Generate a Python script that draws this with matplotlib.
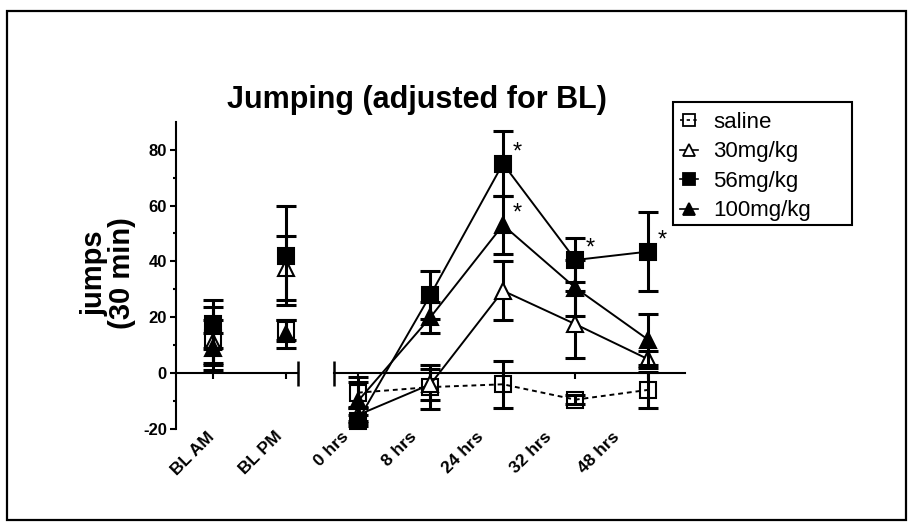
import matplotlib
matplotlib.use('Agg')
import matplotlib.pyplot as plt
from matplotlib.lines import Line2D
from matplotlib.patches import Rectangle
import matplotlib.transforms as mtrans

plt.rcParams['font.family'] = ['Liberation Sans', 'DejaVu Sans']
plt.rcParams['axes.unicode_minus'] = False

# ---------------- data ----------------
categories = ['BL AM', 'BL PM', '0 hrs', '8 hrs', '24 hrs', '32 hrs', '48 hrs']
series_names = ['saline', '30mg/kg', '56mg/kg', '100mg/kg']
saline_mean = [12.5, 15.5, -7, -5, -4, -9.5, -6]
saline_sem = [11.3, 3.5, 5.5, 8, 8.5, 1.5, 6.5]
mg30_mean = [11, 37.5, -15, -4, 29.5, 17.5, 5]
mg30_sem = [8, 11.5, 3, 5.5, 10.5, 12, 3]
mg56_mean = [17.5, 42, -17, 28, 75, 40.5, 43.5]
mg56_sem = [8.5, 17.7, 2, 8.5, 11.7, 8, 14]
mg100_mean = [9, 14, -10, 20, 53, 30.5, 12]
mg100_sem = [5.5, 5, 7, 5.5, 10.5, 10, 9]
sig_56 = [False, False, False, False, True, True, True]
sig_100 = [False, False, False, False, True, False, False]
y_ticks = [-20, 0, 20, 40, 60, 80]

n_baseline = 2  # first two categories are baseline (left segment)

W, H = 914, 531
fig = plt.figure(figsize=(W / 100, H / 100), dpi=100)

def fx(px):
    return px / W

def fy(py):
    return 1 - py / H

ax_bottom, ax_top = 429, 121.7
axL = fig.add_axes([fx(176), fy(ax_bottom), fx(297.7) - fx(176), fy(ax_top) - fy(ax_bottom)])
axR = fig.add_axes([fx(334), fy(ax_bottom), fx(685) - fx(334), fy(ax_top) - fy(ax_bottom)])

ylim = (-20, 90)
for ax in (axL, axR):
    ax.set_ylim(*ylim)
    ax.patch.set_alpha(0)
    for s in ('top', 'right'):
        ax.spines[s].set_visible(False)
    ax.spines['bottom'].set_position(('data', 0))
    ax.spines['bottom'].set_linewidth(1.5)
    ax.tick_params(axis='x', direction='out', length=4, width=1.5, labelbottom=False)

axL.set_xlim(-0.51, 1.16)
axR.set_xlim(1.67, 6.51)

axL.spines['left'].set_linewidth(1.5)
axL.set_yticks(y_ticks)
axL.set_yticks([-10, 10, 30, 50, 70], minor=True)
axL.tick_params(axis='y', which='major', direction='out', length=4.5, width=1.5,
                labelsize=12, pad=2)
axL.tick_params(axis='y', which='minor', direction='out', length=2.5, width=1.5)
for lab in axL.get_yticklabels():
    lab.set_fontweight('bold')

axR.spines['left'].set_visible(False)
axR.set_yticks([])

xs = list(range(len(categories)))
axL.set_xticks(xs[:n_baseline])
axR.set_xticks(xs[n_baseline:])

# axis end bars
for ax, xend in ((axL, 1.0), (axR, 0.0)):
    tr = mtrans.blended_transform_factory(ax.transAxes, ax.transData)
    ax.plot([xend], [0], marker='|', ms=18, mew=1.8, color='k', transform=tr,
            clip_on=False, zorder=6)

styles = [
    dict(mean=saline_mean, sem=saline_sem, marker='s', mfc='none', ls=(0, (2.5, 2)), z=2),
    dict(mean=mg30_mean, sem=mg30_sem, marker='^', mfc='white', ls='-', z=3),
    dict(mean=mg56_mean, sem=mg56_sem, marker='s', mfc='black', ls='-', z=4),
    dict(mean=mg100_mean, sem=mg100_sem, marker='^', mfc='black', ls='-', z=5),
]

for st in styles:
    for ax, idx in ((axL, slice(0, n_baseline)), (axR, slice(n_baseline, None))):
        xx = xs[idx]
        mm = st['mean'][idx]
        ee = st['sem'][idx]
        ax.errorbar(xx, mm, yerr=ee, fmt='none', ecolor='k', elinewidth=2.2,
                    capsize=7, capthick=2.2, zorder=st['z'], clip_on=False)
        if ax is axR:
            ax.plot(xx, mm, color='k', lw=1.4, ls=st['ls'], zorder=st['z'], clip_on=False)
        ax.plot(xx, mm, ls='none', marker=st['marker'], ms=11.5, mfc=st['mfc'],
                mec='k', mew=1.5, zorder=st['z'] + 0.5, clip_on=False)

for sig, mean in ((sig_56, mg56_mean), (sig_100, mg100_mean)):
    for i, flag in enumerate(sig):
        if flag:
            axR.annotate('*', (xs[i], mean[i]), xytext=(10.5, 4), textcoords='offset points',
                         ha='center', va='baseline', fontsize=17, zorder=10)

# rotated category labels
for i, cat in enumerate(categories):
    ax = axL if i < n_baseline else axR
    tr = mtrans.blended_transform_factory(ax.transData, ax.transAxes)
    xl = -0.096 + 0.9325 * i
    ax.text(xl, 0.0, cat, transform=tr, rotation=45, rotation_mode='anchor',
            ha='right', va='top', fontsize=12.5, fontweight='bold', clip_on=False)

# y label
fig.text(fx(108), fy(273), 'jumps\n(30 min)', rotation=90, ha='center', va='center',
         fontsize=21, fontweight='bold', multialignment='center', linespacing=1.0)

# title
fig.text(fx(416.5), fy(108), 'Jumping (adjusted for BL)', ha='center', va='baseline',
         fontsize=22, fontweight='bold')

# legend (frame drawn separately to keep GraphPad-like right padding)
handles = [
    Line2D([], [], color='k', lw=1.2, ls=(0, (2, 2)), marker='s', ms=8, mfc='none', mec='k', mew=1.3),
    Line2D([], [], color='k', lw=1.2, marker='^', ms=8, mfc='white', mec='k', mew=1.3),
    Line2D([], [], color='k', lw=1.2, marker='s', ms=8, mfc='black', mec='k', mew=1.3),
    Line2D([], [], color='k', lw=1.2, marker='^', ms=8, mfc='black', mec='k', mew=1.3),
]
leg = fig.legend(handles, series_names, loc='upper left',
                 bbox_to_anchor=(fx(680), fy(112)), bbox_transform=fig.transFigure,
                 fontsize=16, frameon=False,
                 handlelength=0.8, handletextpad=0.7, borderpad=0,
                 labelspacing=0.38, borderaxespad=0)
fig.patches.append(Rectangle((fx(673), fy(225)), fx(852) - fx(673), fy(102) - fy(225),
                             transform=fig.transFigure, fill=False, lw=1.5, ec='k'))

# figure border
fig.patches.append(Rectangle((fx(7), fy(520)), fx(906) - fx(7), fy(11) - fy(520),
                             transform=fig.transFigure, fill=False, lw=1.6, ec='k'))

fig.savefig('out.png', dpi=100)
